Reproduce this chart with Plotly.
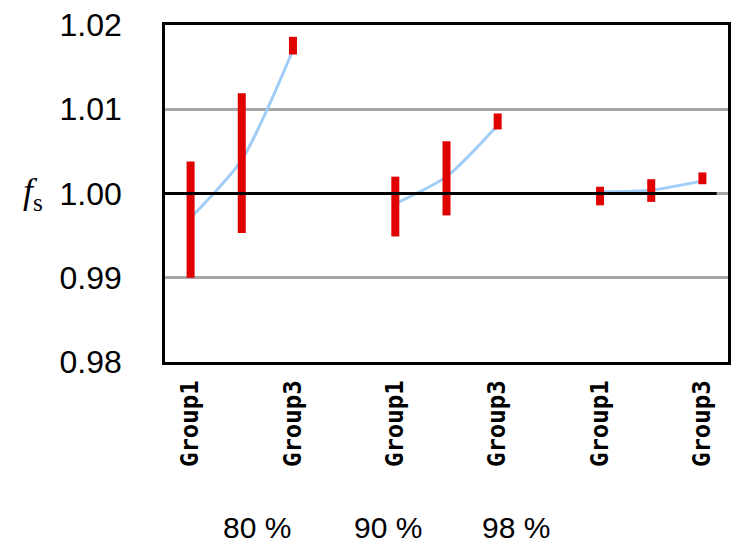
import plotly.graph_objects as go

# Confidence levels and the groups measured at each level
levels = ["80 %", "90 %", "98 %"]
groups = ["Group1", "Group2", "Group3"]
labeled_groups = ["Group1", "Group3"]

# Range of f_s per group (low / high end of each red bar), one list per level
fs_low = [
    [0.9900, 0.9953, 1.0165],
    [0.9949, 0.9974, 1.0076],
    [0.9986, 0.9990, 1.0011],
]
fs_high = [
    [1.0038, 1.0119, 1.0186],
    [1.0020, 1.0062, 1.0095],
    [1.0008, 1.0017, 1.0025],
]
# Smoothed trend of f_s across groups (light blue curve)
fs_trend = [
    [0.9971, 1.0040, 1.0170],
    [0.9988, 1.0020, 1.0081],
    [1.0002, 1.0004, 1.0015],
]

y_ticks = [0.98, 0.99, 1.00, 1.01, 1.02]
reference_value = 1.00

slots_per_level = len(groups) + 1  # one empty slot between levels


def slot(li, gi):
    return li * slots_per_level + gi


fig = go.Figure()

# Trend curves, drawn first so the red range bars sit on top
for li in range(len(levels)):
    fig.add_trace(go.Scatter(
        x=[slot(li, gi) for gi in range(len(groups))],
        y=fs_trend[li],
        mode="lines",
        line=dict(color="#9fcdf7", width=3, shape="spline", smoothing=0.7),
        hoverinfo="skip",
        showlegend=False,
    ))

# Vertical range bars
bx, by = [], []
for li in range(len(levels)):
    for gi in range(len(groups)):
        s = slot(li, gi)
        bx += [s, s, None]
        by += [fs_low[li][gi], fs_high[li][gi], None]
fig.add_trace(go.Scatter(
    x=bx, y=by, mode="lines",
    line=dict(color="#e00000", width=8),
    showlegend=False,
))

n_slots = slot(len(levels) - 1, len(groups) - 1) + 1
tick_vals, tick_text = [], []
for li in range(len(levels)):
    for gi, g in enumerate(groups):
        if g in labeled_groups:
            tick_vals.append(slot(li, gi))
            tick_text.append(g)

# Category axis crossing at f_s = 1.00
fig.add_shape(
    type="line", xref="x", yref="y",
    x0=-0.5, x1=n_slots - 0.72, y0=reference_value, y1=reference_value,
    line=dict(color="black", width=3), layer="above",
)

fig.update_xaxes(
    range=[-0.5, n_slots - 0.5],
    tickmode="array", tickvals=tick_vals, ticktext=tick_text,
    tickangle=-90,
    tickfont=dict(family="DejaVu Sans Mono", size=24, color="black", weight="bold"),
    ticks="", ticklabelstandoff=6,
    showgrid=False, zeroline=False,
    showline=True, mirror=True, linecolor="black", linewidth=2.5,
)
fig.update_yaxes(
    range=[y_ticks[0], y_ticks[-1]],
    tickmode="array", tickvals=y_ticks,
    ticktext=[f"{v:.2f}" for v in y_ticks],
    tickfont=dict(family="Liberation Sans, Arial", size=32, color="black"),
    ticks="", ticklabelstandoff=34,
    showgrid=True, gridcolor="#a6a6a6", gridwidth=2.5,
    zeroline=False,
    showline=True, mirror=True, linecolor="black", linewidth=2.5,
)

# Axis title f_s
fig.add_annotation(
    text="<i>f</i><sub>s</sub>", xref="paper", yref="y",
    x=-0.235, y=reference_value, xanchor="center", yanchor="middle",
    showarrow=False,
    font=dict(family="Liberation Serif, Times New Roman", size=36, color="black"),
)

# Confidence level captions below the group labels
level_x = [0.163, 0.396, 0.624]
for name, xp in zip(levels, level_x):
    fig.add_annotation(
        text=name, xref="paper", yref="paper",
        x=xp, y=-0.49, xanchor="center", yanchor="middle",
        showarrow=False,
        font=dict(family="Liberation Sans, Arial", size=30, color="black"),
    )

fig.update_layout(
    width=734, height=547,
    margin=dict(l=165, r=3, t=25, b=185),
    paper_bgcolor="white", plot_bgcolor="white",
    showlegend=False,
)

fig.write_html("out.html")
